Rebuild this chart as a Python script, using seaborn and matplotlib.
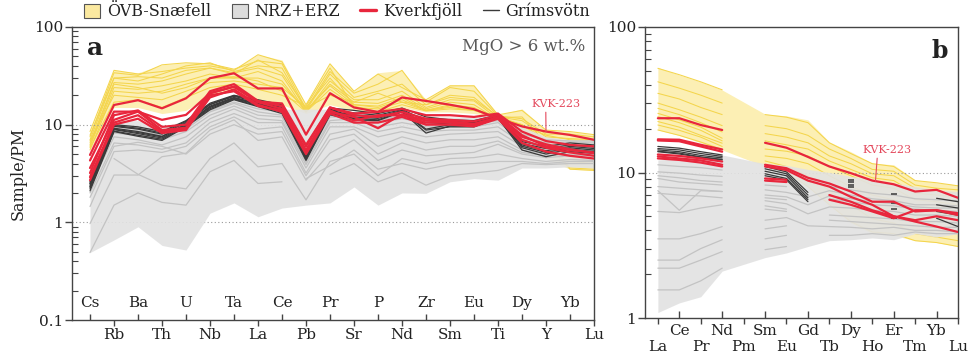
import numpy as np
import pandas as pd
import matplotlib
matplotlib.use("Agg")
import matplotlib.pyplot as plt
from matplotlib.patches import Patch
from matplotlib.lines import Line2D
from matplotlib.ticker import LogLocator, NullFormatter
import seaborn as sns

nan = np.nan

# ---------------------------------------------------------------- panel a
elements_a = ["Cs", "Rb", "Ba", "Th", "U", "Nb", "Ta", "La", "Ce", "Pb", "Pr",
              "Sr", "P", "Nd", "Zr", "Sm", "Eu", "Ti", "Dy", "Y", "Yb", "Lu"]

snaefell_hi_a = [8.5, 36, 34, 41, 43, 43, 37, 52, 46, 16, 42, 22, 34, 36, 18, 25.5, 25.5, 12.6, 14.5, 8.8, 8.5, 7.9]
snaefell_lo_a = [5.5, 15, 15, 13, 14, 20, 22, 17.5, 16, 13, 16, 14, 13, 15, 13.5, 13.5, 13, 12, 7, 4.5, 3.5, 3.4]
snaefell_a = [
    [8.5, 36, 33, 35, 38, 40, 36, 52, 44, 16, 42, 22, 33, 24, 18, 25, 25, 12.6, 14, 8.8, 8.5, 7.9],
    [7.5, 34, 32, 41, 43, 42, 37, 45, 42, 14.5, 35, 21, 26, 36, 17, 24, 22, 12.3, 11.5, 8.0, 8.0, 7.5],
    [7.0, 30, 28, 33, 40, 43, 35, 40, 38, 14, 33, 19, 22, 26, 16, 20, 19, 12, 11, 7.5, 7.2, 7.0],
    [6.5, 27, 26, 28, 33, 38, 34, 38, 32, 13.5, 28, 18, 18, 22, 15, 18, 17.5, 11.5, 10, 6.5, 6.0, 6.0],
    [6.0, 24, 23, 25, 28, 33, 30, 35, 28, 13.5, 26, 17, 16.5, 20, 14.5, 17, 16, 11.2, 9.5, 6.0, 5.0, 4.8],
    [5.5, 22, 21, 22, 26, 30, 30, 30, 26, 14, 25, 16, 15.5, 19, 14, 16, 15, 11, 9.0, 5.5, 4.2, 4.0],
    [6.8, 20, 19, 18, 22, 27, 28, 26, 24, 15, 30, 16, 15, 18, 14, 15.5, 14.5, 12, 10, 7.0, 3.6, 3.5],
    [5.8, 17, 18, 15, 19, 24, 26, 23, 20, 15.5, 38, 15, 14.5, 17, 14, 15, 14, 11.8, 12, 6.5, 3.5, 3.4],
    [7.8, 30, 31, 30, 36, 38, 33, 46, 34, 14.8, 20, 17, 21, 17, 16, 19, 18, 12.2, 9.8, 7.8, 7.0, 6.8],
    [6.2, 26, 24, 21, 24, 30, 31, 28, 22, 13.5, 23, 15.5, 13.5, 16, 13.8, 14.5, 14, 11.8, 9.2, 6.2, 5.5, 5.5],
]

nrz_hi_a = [3.2, 11, 11, 9.5, 11, 15, 18, 16, 14.4, 14.4, 14.4, 12.5, 12, 13, 12, 12, 12, 12.5, 9.5, 7.5, 7, 7]
nrz_lo_a = [0.49, 0.66, 0.9, 0.58, 0.52, 1.24, 1.58, 1.14, 1.4, 1.5, 1.58, 2.3, 1.5, 2.0, 1.98, 2.6, 2.8, 2.7, 3.6, 3.6, 3.7, 3.6]
nrz_a = [
    [0.49, 1.5, 2.0, 1.6, 1.5, 3.3, 4.3, 2.5, 2.6, nan, 3.1, 4.0, 2.6, 3.2, 2.4, 3.0, 3.2, 3.4, 4.0, 3.9, 4.0, 4.0],
    [0.97, 3.05, 3.05, 4.7, 5.1, 8.8, 11.2, 6.9, 7.5, 2.7, 5.1, 7.0, 4.3, 5.5, 4.8, 5.0, 5.2, 6.3, 5.0, 4.6, 4.8, 4.8],
    [1.45, 5.3, 5.5, 5.2, 6.0, 9.5, 12, 9.0, 9.5, 3.2, 8.0, 9.0, 6.0, 7.5, 6.5, 7.0, 7.0, 7.5, 5.5, 5.0, 5.2, 5.0],
    [2.0, 6.5, 6.2, 5.6, 6.5, 10.5, 13, 10.5, 10.5, 3.6, 9.5, 9.5, 7.5, 8.5, 7.5, 8.0, 8.2, 8.5, 6.0, 5.3, 5.5, 5.4],
    [2.3, 7.5, 7.0, 6.2, 7.5, 11.5, 14.5, 11.5, 11.0, 3.9, 10.5, 10.5, 8.5, 9.5, 8.5, 8.8, 8.8, 9.5, 6.5, 5.6, 5.8, 5.6],
    [2.6, 8.2, 7.8, 7.0, 8.5, 12.5, 15.5, 12.5, 12.0, 4.1, 11.0, 11.5, 9.5, 10.5, 9.5, 9.5, 9.5, 10.5, 7.0, 6.0, 6.2, 6.0],
    [3.0, 9.0, 8.6, 7.8, 9.0, 13.5, 16.5, 13.5, 12.5, 4.4, 12.0, 12.0, 10.5, 11.5, 10.5, 10.0, 10.2, 11.0, 7.5, 6.5, 6.6, 6.5],
    [nan, 4.5, 3.1, 2.4, 2.2, 4.5, 6.5, 3.7, 4.0, 1.7, 4.2, 5.0, 3.0, 4.5, 4.0, 4.5, 4.6, 5.0, 4.5, 4.2, 4.4, 4.3],
    [1.8, 6.0, 6.6, 6.0, 5.0, 8.0, 10.0, 8.0, 8.5, 3.0, 7.0, 8.0, 5.0, 6.5, 5.5, 6.0, 6.0, 6.8, 5.2, 4.8, 5.0, 4.9],
    [2.4, 9.8, 9.0, 8.5, 10.0, 14.0, 17.0, 14.5, 13.5, nan, 13.5, 11.0, 11.0, 12.5, 11.0, 11.0, 11.0, 11.8, 8.0, 7.0, 6.8, 6.8],
    [nan, nan, nan, nan, nan, nan, nan, nan, nan, 2.8, 3.8, 5.5, 3.5, 4.0, 3.5, 3.9, 4.0, 4.2, 4.2, 4.0, 4.2, 4.2],
]

grimsvotn_a = [
    [2.6, 10.0, 9.5, 8.5, 11.0, 16.6, 20.0, 18.0, 16.0, 5.1, 14.8, 14.0, 13.0, 14.8, 12.0, 11.2, 11.0, 12.6, 6.7, 6.0, 6.5, 6.2],
    [2.5, 9.6, 9.0, 8.0, 10.5, 16.0, 19.5, 17.0, 15.0, 4.9, 14.2, 13.2, 12.5, 14.3, 11.0, 10.8, 10.5, 12.3, 6.4, 5.7, 6.2, 5.9],
    [2.4, 9.2, 8.5, 7.6, 10.0, 15.5, 19.0, 16.5, 14.5, 4.7, 13.8, 12.6, 12.0, 14.0, 10.0, 10.4, 10.2, 12.1, 6.2, 5.4, 6.0, 5.7],
    [2.3, 8.9, 8.1, 7.3, 9.8, 15.0, 18.5, 16.0, 14.0, 4.5, 13.4, 12.0, 11.6, 13.8, 9.0, 10.0, 9.9, 12.0, 6.0, 5.2, 5.8, 5.5],
    [2.2, 8.6, 7.8, 7.1, 9.6, 14.6, 18.2, 15.6, 13.5, 4.4, 13.0, 11.6, 11.2, 13.6, 8.2, 9.7, 9.6, 11.8, 5.8, 5.0, 5.6, 5.3],
    [2.1, 8.5, 7.6, 6.9, 9.5, 14.2, 18.0, 15.3, 13.0, 4.3, 12.6, 11.2, 11.0, 13.5, 8.8, 9.5, 9.5, 11.7, 5.5, 4.7, 5.3, 5.1],
    [2.5, 9.8, 9.2, 8.2, 10.8, 16.2, 19.8, 17.5, 15.5, 5.0, 14.5, 11.5, nan, nan, nan, nan, nan, nan, nan, nan, nan, nan],
    [2.3, 9.0, 8.3, 7.5, 10.2, 15.2, 18.8, 16.2, 14.2, 4.6, 13.6, 12.2, nan, nan, nan, nan, nan, nan, nan, nan, nan, nan],
]

kverkfjoll_a = [
    [4.9, 15.9, 17.8, 14.7, 18.6, 29.9, 33.6, 23.5, 23.5, 7.9, 21.0, 15.0, 13.5, 19.0, 17.5, 16.0, 14.4, 11.6, 9.6, 8.5, 7.85, 7.0],
    [4.3, 13.6, 13.6, 11.2, 12.6, 21.0, 24.5, 17.2, 16.5, 6.2, 15.0, 13.0, 13.5, 14.5, 12.5, 12.5, 12.0, 13.0, 8.5, 6.8, 6.2, 6.0],
    [3.6, 11.2, 13.6, 8.8, 9.3, 21.0, 24.5, 17.0, 14.5, 5.5, 14.0, 11.0, 12.5, 12.5, 10.5, 10.5, 10.0, 12.0, 7.0, 5.8, 5.2, 4.8],
    [2.9, 10.5, 12.5, 8.5, 9.0, 20.0, 22.0, 15.5, 14.0, 5.3, 13.5, 12.0, 9.2, 12.8, 11.0, 10.8, 10.2, 11.8, 7.5, 6.3, 5.6, 5.1],
    [3.2, 12.5, 14.0, 9.5, 10.0, 22.0, 26.0, 17.5, 15.5, 6.0, 15.0, 12.5, 12.0, 13.5, 11.5, 11.2, 10.8, 12.5, 7.8, 6.0, 5.5, 5.2],
    [2.7, 10.0, 11.5, 8.2, 8.8, 19.0, 23.0, 16.0, 13.5, 5.0, 13.0, 10.5, 10.5, 12.0, 10.0, 10.0, 9.6, 11.5, 6.5, 5.3, 4.8, 4.5],
]

# ---------------------------------------------------------------- panel b
elements_b = ["La", "Ce", "Pr", "Nd", "Pm", "Sm", "Eu", "Gd",
              "Tb", "Dy", "Ho", "Er", "Tm", "Yb", "Lu"]

snaefell_hi_b = [52.8, 46.8, 42, 36.9, nan, 25.2, 24.5, 23, 16.2, 13.9, 11.6, 11.3, 8.9, 8.5, 8.2]
snaefell_lo_b = [19.6, 18, 16, 14.3, nan, 11, 10, 8, 6, 4.5, 3.8, 3.7, 3.4, 3.3, 3.1]
snaefell_b = [
    [52, 47, 42, 37, nan, 25, 24, 22, 16, 13.5, 11.5, 11, 8.8, 8.5, 8.1],
    [42, 38, 34, 30, nan, 21, 20, 18, 14.5, 12.5, 10.5, 10.2, 8.2, 7.8, 7.6],
    [35, 32, 28, 25, nan, 18.5, 17.5, 16, 13, 11.5, 9.8, 9.5, 7.8, 7.4, 7.2],
    [30, 27, 24, 21, nan, 16.5, 15.5, 14.5, 12, 10.5, 9.2, 8.8, 7.2, 7.0, 6.8],
    [27.6, 25, 22, 19, nan, 14.5, 14, 13, 11, 9.5, 8.2, 7.8, 6.5, 6.3, 6.0],
    [25.5, 23, 20.5, 17.2, nan, 13, 12.5, 11.5, 9.5, 8.0, 7.0, 6.5, 5.5, 5.3, 5.0],
    [24.2, 22, 19.5, 16.5, nan, nan, nan, nan, nan, nan, nan, nan, nan, nan, nan],
    [22.4, 20.5, 18, 15.9, nan, 12, 11, 9.5, 7.5, 6.0, 4.8, 4.5, 3.8, 3.6, 3.4],
    [21.2, 19.5, 17.5, 15.1, nan, nan, nan, nan, nan, nan, nan, nan, nan, nan, nan],
    [19.6, 18, 16.2, 14.4, nan, 11, 10, 8.0, 6.0, 4.6, 3.9, 3.8, 3.4, 3.3, 3.1],
]

nrz_hi_b = [12.2, 12.5, 12.8, 13.2, nan, 11.5, 11.2, 10.5, 10, 9.4, 9.0, 8.5, 8.0, 7.6, 7.4]
nrz_lo_b = [1.09, 1.27, 1.4, 2.1, nan, 2.6, 2.8, 3.1, 3.4, 3.45, 3.55, 3.45, 3.8, 3.6, 3.8]
nrz_b = [
    [11.3, 11.0, 10.8, 10.4, nan, 8.2, 8.0, nan, 8.0, 7.6, 7.2, 7.0, 6.6, 6.5, 6.4],
    [10.1, 9.9, 9.6, 9.4, nan, 7.6, 7.3, 6.8, 7.5, 7.0, 6.6, 6.4, 6.0, 6.0, 5.9],
    [9.5, 9.2, 8.8, 8.6, nan, 7.0, 6.8, 6.0, 6.9, 6.6, 6.3, 6.1, 5.8, 5.7, 5.7],
    [9.1, 8.6, 8.4, 8.2, nan, 6.7, 6.5, nan, 6.6, 6.3, 6.0, 5.9, 5.6, 5.5, 5.4],
    [7.5, 5.5, 7.5, 7.4, nan, 6.4, 6.1, 5.2, 5.8, 5.7, 5.5, 5.4, 5.1, 5.1, 5.0],
    [8.0, 7.8, 7.6, 7.4, nan, 5.9, 5.6, nan, 5.1, 5.0, 4.9, 4.8, 4.6, 4.6, 4.5],
    [7.2, 7.0, 6.9, 6.7, nan, 5.6, 5.4, nan, 4.7, 4.6, 4.5, 4.4, 4.3, 4.2, 4.2],
    [5.4, 5.3, 5.7, 6.0, nan, 4.7, 4.9, 4.3, 4.25, 4.2, 4.1, 4.2, 4.0, 4.0, 3.9],
    [3.5, 3.5, 3.8, 4.25, nan, 4.1, 4.3, nan, 3.7, 3.7, 3.8, 3.7, 3.9, 3.8, 3.8],
    [2.5, 2.5, 3.0, 3.45, nan, 3.5, 3.7, nan, nan, nan, nan, nan, nan, nan, nan],
    [2.2, 2.2, 2.5, 2.86, nan, 2.95, 3.1, nan, nan, nan, nan, nan, nan, nan, nan],
    [1.56, 1.56, 1.8, 2.2, nan, nan, nan, nan, nan, nan, nan, nan, nan, nan, nan],
]

grimsvotn_b = [
    [15.1, 14.7, 13.9, 13.2, nan, 11.0, 10.1, 7.3, nan, 8.9, nan, 7.1, nan, 6.65, 6.3],
    [14.6, 14.3, 13.5, 12.9, nan, 10.6, 9.8, 7.0, nan, 8.6, nan, 6.2, nan, 6.0, 5.7],
    [14.3, 13.9, 13.1, 12.6, nan, 10.2, 9.5, 6.7, nan, 8.2, nan, 5.6, nan, 5.4, 5.1],
    [14.0, 13.6, 12.8, 12.3, nan, 9.8, 9.1, 6.5, nan, 7.9, nan, 4.9, nan, 4.85, 4.25],
    [13.9, 13.4, 12.7, 12.2, nan, 9.5, 8.9, 6.3, nan, nan, nan, nan, nan, nan, nan],
]

kverkfjoll_b = [
    [23.6, 23.6, 21.2, 19.6, nan, 16.0, 14.8, 12.8, 11.0, 9.9, 8.8, 8.3, 7.4, 7.6, 6.7],
    [16.9, 16.8, 15.5, 14.4, nan, 11.3, 10.7, 9.2, 8.4, 7.4, 6.3, 6.3, 5.4, 5.5, 5.1],
    [16.6, 16.4, 15.1, 13.9, nan, 11.0, 10.4, 8.8, 8.0, 6.8, 6.0, 5.0, 4.7, 5.0, 4.7],
    [13.3, 13.0, 12.5, 11.9, nan, 9.1, 8.9, nan, 7.0, 6.3, 5.5, 5.0, 4.6, 4.25, 3.9],
    [12.9, 12.5, 12.1, 11.3, nan, 8.8, 8.6, nan, 6.5, 6.0, 5.4, 4.85, 5.5, 5.5, 5.25],
    [12.5, 12.2, 11.7, 11.0, nan, nan, nan, nan, nan, nan, nan, nan, nan, nan, nan],
]

# ---------------------------------------------------------------- styling
YELLOW_FILL = "#fcefb4"
YELLOW_LINE = "#f4d54c"
GRAY_FILL = "#e2e2e2"
GRAY_LINE = "#c3c3c3"
DARK = "#3a3a3a"
RED = "#e8263c"
LABEL_RED = "#e4485c"
SPINE = "#444444"

sns.set_theme(style="ticks")
plt.rcParams["font.family"] = ["DejaVu Serif"]
plt.rcParams["axes.edgecolor"] = SPINE
plt.rcParams["xtick.color"] = SPINE
plt.rcParams["ytick.color"] = SPINE
plt.rcParams["text.color"] = "#222222"
plt.rcParams["xtick.labelcolor"] = "#222222"
plt.rcParams["ytick.labelcolor"] = "#222222"


def long_form(rows):
    """Split each sample into runs of consecutive measured elements."""
    recs = []
    for i, row in enumerate(rows):
        seg = 0
        prev = False
        for pos, v in enumerate(row):
            if np.isnan(v):
                if prev:
                    seg += 1
                prev = False
                continue
            recs.append((f"s{i}_{seg}", pos, v))
            prev = True
    df = pd.DataFrame(recs, columns=["unit", "pos", "value"])
    df["n"] = df.groupby("unit")["pos"].transform("size")
    return df


def draw_group(ax, rows, color, lw, z, dash_single=False):
    df = long_form(rows)
    runs = df[df["n"] > 1]
    sns.lineplot(data=runs, x="pos", y="value", units="unit", estimator=None,
                 sort=False, color=color, lw=lw, ax=ax, legend=False, zorder=z)
    singles = df[df["n"] == 1]
    if dash_single and len(singles):
        sns.scatterplot(data=singles, x="pos", y="value", marker="_", s=22,
                        color=color, linewidth=1.1, ax=ax, legend=False, zorder=z)


def envelope(ax, lo, hi, color, z, alpha=1.0):
    lo = np.asarray(lo, float)
    hi = np.asarray(hi, float)
    pos = np.arange(len(lo))
    ok = ~np.isnan(lo) & ~np.isnan(hi)
    ax.fill_between(pos[ok], lo[ok], hi[ok], color=color, lw=0, zorder=z, alpha=alpha)


def draw_panel(ax, sn_lo, sn_hi, sn, nr_lo, nr_hi, nr, gr, kv, gridlines):
    ax.set_yscale("log")
    envelope(ax, sn_lo, sn_hi, YELLOW_FILL, 1)
    draw_group(ax, sn, YELLOW_LINE, 0.75, 1.2)
    for g in gridlines:
        ax.axhline(g, ls=(0, (1, 2.2)), color="#9a9a9a", lw=0.8, zorder=1.5)
    envelope(ax, nr_lo, nr_hi, GRAY_FILL, 2, alpha=0.9)
    draw_group(ax, nr, GRAY_LINE, 0.9, 3)
    draw_group(ax, gr, DARK, 0.9, 4, dash_single=True)
    draw_group(ax, kv, RED, 1.6, 5)
    ax.set_xlabel("")
    ax.set_ylabel("")
    for s in ax.spines.values():
        s.set_linewidth(1.0)
        s.set_color(SPINE)


fig = plt.figure(figsize=(9.75, 3.57), dpi=100)
ax_a = fig.add_axes([72 / 975, 37 / 357, 522 / 975, 293 / 357])
ax_b = fig.add_axes([645 / 975, 39 / 357, 313 / 975, 291 / 357])

draw_panel(ax_a, snaefell_lo_a, snaefell_hi_a, snaefell_a,
           nrz_lo_a, nrz_hi_a, nrz_a, grimsvotn_a, kverkfjoll_a, [1, 10])
draw_panel(ax_b, snaefell_lo_b, snaefell_hi_b, snaefell_b,
           nrz_lo_b, nrz_hi_b, nrz_b, grimsvotn_b, kverkfjoll_b, [10])

# axes limits and ticks
ax_a.set_xlim(-0.75, len(elements_a) - 1)
ax_a.set_ylim(0.1, 100)
ax_b.set_xlim(-0.6, len(elements_b) - 1)
ax_b.set_ylim(1, 100)

ax_a.set_yticks([0.1, 1, 10, 100], labels=["0.1", "1", "10", "100"])
ax_b.set_yticks([1, 10, 100], labels=["1", "10", "100"])
for ax in (ax_a, ax_b):
    ax.yaxis.set_minor_locator(LogLocator(base=10, subs=np.arange(2, 10)))
    ax.yaxis.set_minor_formatter(NullFormatter())
    ax.tick_params(axis="y", which="major", direction="out", length=5,
                   width=1, labelsize=11, pad=1.5)
    ax.tick_params(axis="y", which="minor", direction="in", length=4, width=0.8)

# panel a: even elements labelled inside, odd ones below the axis
pos_a = np.arange(len(elements_a))
ax_a.set_xticks(pos_a[0::2], labels=elements_a[0::2])
ax_a.set_xticks(pos_a[1::2], labels=elements_a[1::2], minor=True)
ax_a.tick_params(axis="x", which="major", direction="in", length=4, width=1,
                 labelsize=11, pad=-17.5)
ax_a.tick_params(axis="x", which="minor", direction="out", length=4, width=1,
                 labelsize=11, pad=1.5)

# panel b: two staggered rows below the axis
pos_b = np.arange(len(elements_b))
ax_b.set_xticks(pos_b[1::2], labels=elements_b[1::2])
ax_b.set_xticks(pos_b[0::2], labels=elements_b[0::2], minor=True)
ax_b.tick_params(axis="x", which="major", direction="in", length=5, width=1,
                 labelsize=11, pad=4.5)
ax_b.tick_params(axis="x", which="minor", direction="out", length=4, width=1,
                 labelsize=11, pad=12)

# annotations
ax_a.text(0.028, 0.905, "a", transform=ax_a.transAxes, fontsize=18,
          fontweight="bold", va="baseline", ha="left")
ax_b.text(0.968, 0.895, "b", transform=ax_b.transAxes, fontsize=17,
          fontweight="bold", va="baseline", ha="right")
ax_a.text(0.983, 0.935, "MgO > 6 wt.%", transform=ax_a.transAxes,
          fontsize=12, color="#5a5a5a", ha="right", va="center")

arrow = dict(arrowstyle="-", color=LABEL_RED, lw=0.8, shrinkA=0, shrinkB=0,
             relpos=(0.3, 0.0))
ax_a.annotate("KVK-223", xy=(19, kverkfjoll_a[0][19]), xytext=(19.4, 16.3),
              fontsize=8, color=LABEL_RED, ha="center", va="center",
              arrowprops=arrow, zorder=6)
ax_b.annotate("KVK-223", xy=(10.15, 8.7), xytext=(10.7, 14.3),
              fontsize=8, color=LABEL_RED, ha="center", va="center",
              arrowprops=arrow, zorder=6)

fig.text(18 / 975, 0.514, "Sample/PM", rotation=90, ha="center", va="center",
         fontsize=11.5)

handles = [
    Patch(facecolor="#fbe9a0", edgecolor="#555555", linewidth=0.8),
    Patch(facecolor="#dcdcdc", edgecolor="#555555", linewidth=0.8),
    Line2D([], [], color=RED, lw=2.4),
    Line2D([], [], color=DARK, lw=1.0),
]
labels = ["ÖVB-Snæfell", "NRZ+ERZ", "Kverkfjöll", "Grímsvötn"]
fig.legend(handles, labels, loc="center", bbox_to_anchor=(337 / 975, 1 - 12 / 357),
           ncol=4, frameon=False, fontsize=11.5, handlelength=1.0,
           handleheight=0.9, handletextpad=0.4, columnspacing=1.3,
           borderaxespad=0, borderpad=0)

fig.savefig("out.png", dpi=100)
